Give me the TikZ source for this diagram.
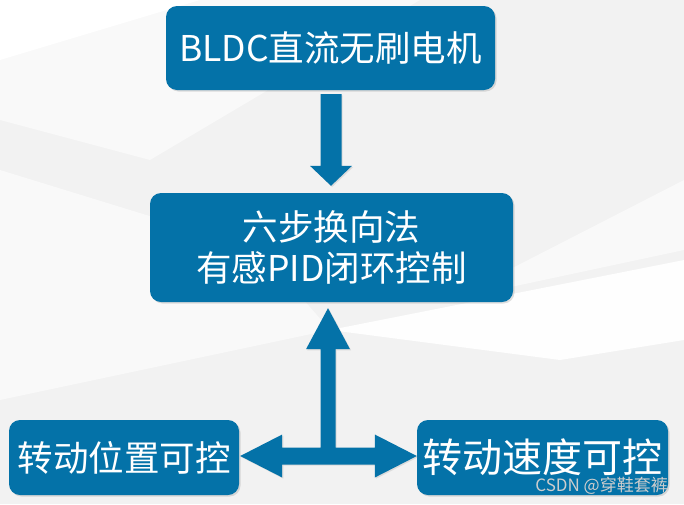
\documentclass[tikz,border=0pt]{standalone}
\usepackage{fontspec}
\newfontfamily\cjk{Noto Sans CJK SC}
\usetikzlibrary{shadows,calc}
\definecolor{boxblue}{RGB}{4,114,168}
\definecolor{bggray}{RGB}{242,242,242}
\definecolor{bglight}{RGB}{249,249,249}
\definecolor{wmgray}{RGB}{205,205,205}
\tikzset{
  box/.style={fill=boxblue, rounded corners=11pt, text=white, inner sep=0pt,
    font=\cjk\fontsize{35.5}{41}\selectfont, align=center,
    drop shadow={opacity=0.25, shadow xshift=1.5pt, shadow yshift=-1.5pt}},
  blockarrow/.style={fill=boxblue, draw=none,
    drop shadow={opacity=0.2, shadow xshift=1.2pt, shadow yshift=-1.2pt}},
}
\begin{document}
\begin{tikzpicture}[x=1pt,y=-1pt]
\useasboundingbox (0,0) rectangle (684,504);
% background
\fill[bggray] (0,0) rectangle (684,504);
\fill[bglight] (0,0) -- (420,0) -- (150,160) -- (0,120) -- cycle;
\fill[bglight] (0,170) -- (260,250) -- (330,330) -- (0,400) -- cycle;
\fill[white!97!bggray] (330,330) -- (684,260) -- (684,340) -- (560,360) -- cycle;
\fill[white] (0,0) -- (200,0) -- (0,60) -- cycle;
\fill[bglight] (450,300) -- (684,180) -- (684,250) -- cycle;
% boxes
\node[box, minimum width=329pt, minimum height=84pt] (motor) at (330.5,48) {BLDC直流无刷电机};
\node[box, minimum width=363pt, minimum height=109pt] (ctrl) at (331.5,247.5) {六步换向法\\有感PID闭环控制};
\node[box, minimum width=230pt, minimum height=75pt] (pos) at (124,457.5) {转动位置可控};
\node[box, minimum width=251pt, minimum height=75pt, font=\cjk\fontsize{40}{46}\selectfont] (spd) at (542.5,457.5) {转动速度可控};
% down arrow from motor to ctrl
\coordinate (dtop) at ($(motor.south)+(0.5,4)$);
\coordinate (dtip) at ($(ctrl.north)+(-0.5,-7)$);
\fill[blockarrow] ($(dtop)+(-10.5,0)$) -- ($(dtop)+(10.5,0)$) -- ($(dtip)+(10.5,-20)$) -- ($(dtip)+(21,-20)$) -- (dtip) -- ($(dtip)+(-21,-20)$) -- ($(dtip)+(-10.5,-20)$) -- cycle;
% T-shaped arrow: up to ctrl, left to pos, right to spd
\coordinate (j) at (328,456);
\coordinate (utip) at ($(ctrl.south)+(-3.5,6)$);
\coordinate (ltip) at ($(pos.east)+(1,-1.5)$);
\coordinate (rtip) at ($(spd.west)+(0,-1.5)$);
\fill[blockarrow]
  (utip) -- ($(utip)+(22,41)$) -- ($(utip)+(7.5,41)$) -- ($(j)+(7.5,-8.5)$)
  -- ($(rtip)+(-42,-8.5)$) -- ($(rtip)+(-42,-21.5)$) -- (rtip) -- ($(rtip)+(-42,21.5)$) -- ($(rtip)+(-42,8.5)$)
  -- ($(ltip)+(42,8.5)$) -- ($(ltip)+(42,21.5)$) -- (ltip) -- ($(ltip)+(42,-21.5)$) -- ($(ltip)+(42,-8.5)$)
  -- ($(j)+(-7.5,-8.5)$) -- ($(utip)+(-7.5,41)$) -- ($(utip)+(-22,41)$) -- cycle;
% watermark
\node[anchor=east, text=wmgray, font=\cjk\fontsize{17}{20}\selectfont, inner sep=0pt] (wm) at (668,486) {CSDN @穿鞋套裤};
\end{tikzpicture}
\end{document}
